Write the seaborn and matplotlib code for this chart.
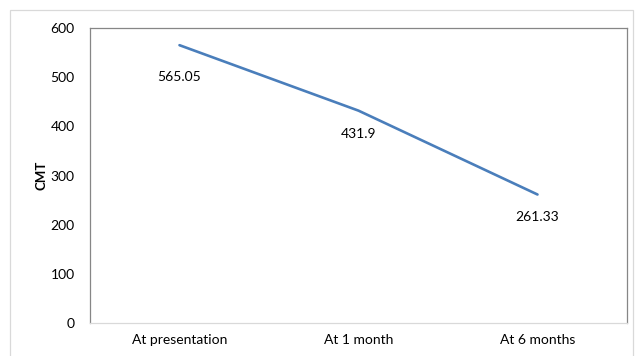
import matplotlib
matplotlib.use("Agg")
import matplotlib.pyplot as plt
import seaborn as sns
import pandas as pd
from matplotlib.patches import Rectangle

categories = ["At presentation", "At 1 month", "At 6 months"]
values = [565.05, 431.9, 261.33]
labels = ["565.05", "431.9", "261.33"]
yticks = [0, 100, 200, 300, 400, 500, 600]

sns.set_theme(style="white")
plt.rcParams["font.family"] = ["Lato", "DejaVu Sans"]

df = pd.DataFrame({"time": categories, "CMT": values})

fig = plt.figure(figsize=(6.36, 3.56), dpi=100)
ax = fig.add_axes([90/636, 1-323/356, (627-90)/636, (323-28)/356])

sns.lineplot(data=df, x="time", y="CMT", ax=ax, color="#4A7EBB", linewidth=1.9, sort=False)

ax.set_xlim(-0.5, 2.5)
ax.set_ylim(0, 600)
ax.set_yticks(yticks)
ax.set_yticklabels([str(t) for t in yticks])
ax.tick_params(axis="both", length=0, labelsize=10, colors="#000000")
ax.tick_params(axis="y", pad=11)
ax.tick_params(axis="x", pad=8)
ax.set_xlabel("")
ax.set_ylabel("CMT", fontsize=9.5, fontweight="bold", labelpad=2, color="#000000")

for side in ["left", "top", "right"]:
    ax.spines[side].set_color("#868686")
    ax.spines[side].set_linewidth(0.9)
ax.spines["bottom"].set_color("#D9D9D9")
ax.spines["bottom"].set_linewidth(0.9)

offsets = [-32, -23, -22]
for i, (v, lab) in enumerate(zip(values, labels)):
    ax.annotate(lab, xy=(i, v), xytext=(0, offsets[i]), textcoords="offset pixels",
                ha="center", va="center", fontsize=10, color="#000000")

fig.patches.append(Rectangle((10/636, -0.05), (633-10)/636, 1.05 - 10/356,
                             transform=fig.transFigure, fill=False,
                             edgecolor="#D9D9D9", linewidth=0.9))

fig.savefig("out.png", dpi=100)
